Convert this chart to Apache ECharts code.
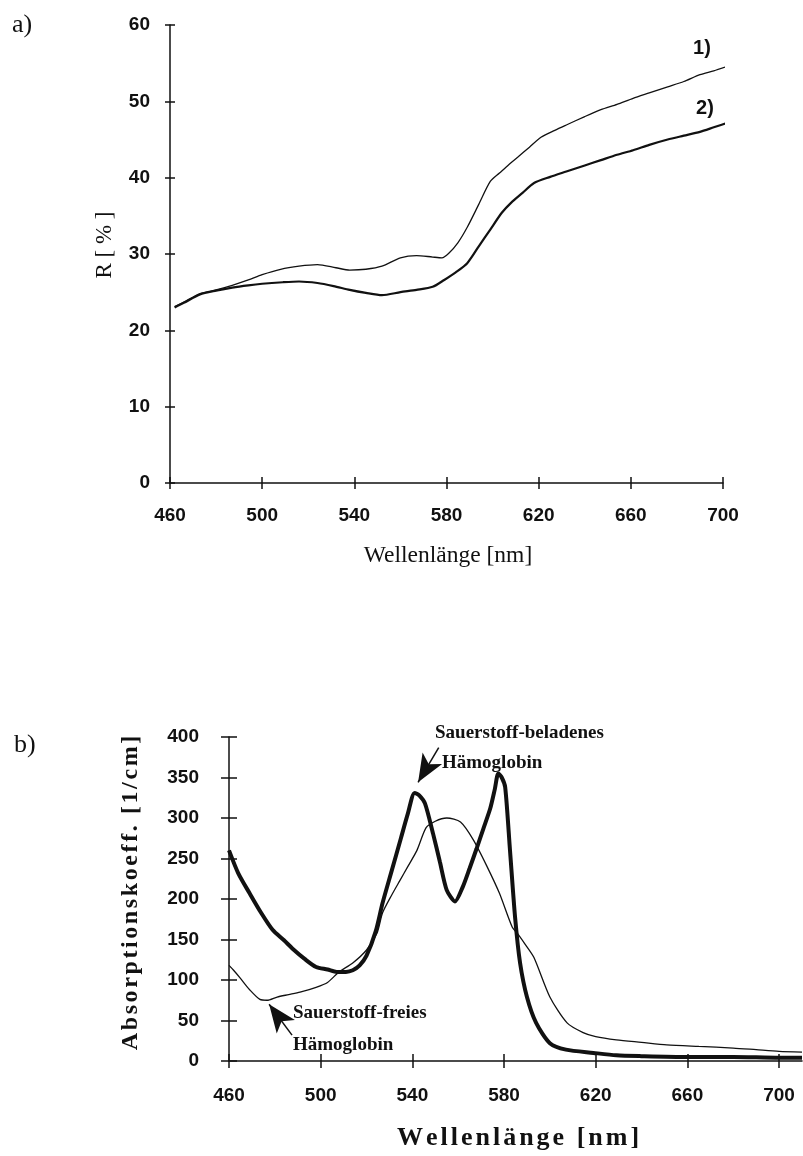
<!DOCTYPE html>
<html>
<head>
<meta charset="utf-8">
<script src="https://cdn.jsdelivr.net/npm/echarts@6/dist/echarts.min.js"></script>
<style>
html,body{margin:0;padding:0;background:#fff;}
#chart{width:803px;height:1156px;}
</style>
</head>
<body>
<div id="chart"></div>
<script>
// ---- Panel a) Reflexion R [%] ----
var wlR1 = [462, 466, 473, 480, 487, 494, 500, 508, 516, 524, 532, 538, 545, 552, 560, 567, 574, 578, 581, 585, 589, 594, 599, 603, 607, 611, 616, 621, 627, 632, 640, 647, 654, 661, 668, 676, 683, 690, 696, 702];
var valR1 = [23.1, 23.7, 24.8, 25.3, 25.9, 26.6, 27.3, 28.0, 28.4, 28.6, 28.2, 27.9, 28.0, 28.4, 29.5, 29.8, 29.6, 29.5, 30.1, 31.5, 33.5, 36.5, 39.5, 40.6, 41.7, 42.7, 44.0, 45.3, 46.2, 46.9, 48.0, 48.9, 49.6, 50.4, 51.1, 51.9, 52.6, 53.5, 54.0, 54.6];
var wlR2 = [462, 466, 473, 480, 487, 494, 500, 509, 516, 524, 531, 538, 545, 552, 560, 567, 574, 579, 584, 589, 594, 599, 604, 608, 613, 618, 625, 632, 640, 647, 654, 661, 668, 676, 683, 690, 696, 702];
var valR2 = [23.0, 23.6, 24.7, 25.2, 25.6, 25.9, 26.1, 26.3, 26.4, 26.2, 25.8, 25.3, 24.9, 24.6, 25.0, 25.3, 25.7, 26.6, 27.6, 28.8, 31.0, 33.2, 35.4, 36.7, 38.0, 39.3, 40.1, 40.8, 41.6, 42.3, 43.0, 43.6, 44.3, 45.0, 45.5, 46.0, 46.6, 47.2];
var xTicksA = [460, 500, 540, 580, 620, 660, 700];
var yTicksA = [0, 10, 20, 30, 40, 50, 60];

// ---- Panel b) Absorptionskoeffizient [1/cm] ----
var wlOxy = [460, 464, 469, 474, 479, 484, 488, 493, 498, 503, 507, 511, 514, 517, 520, 524, 527, 531, 535, 538, 541, 543, 545.5, 549, 552, 555, 558.6, 562, 565, 568, 571, 574, 576, 577.5, 579, 580.5, 582.6, 584.8, 587, 590, 594, 600, 607, 619, 629, 640, 660, 680, 700, 710];
var absOxy = [260, 232, 207, 183, 162, 149, 138, 126, 116, 113, 110, 110, 112, 118, 130, 160, 195, 235, 275, 305, 331, 328, 318, 281, 246, 211, 197, 215, 238, 262, 287, 312, 336, 355, 350, 338, 260, 178, 121, 79, 47, 22, 14, 10, 7, 6, 5, 5, 4, 4];
var wlDeoxy = [460, 462, 465, 469, 473.5, 476.6, 481, 486, 491, 498, 503, 508, 514, 520, 524.6, 527, 531, 534.6, 538, 542, 546, 550, 555, 561, 566.6, 572.6, 578, 583.6, 586, 589, 593, 600, 607.5, 614.5, 620, 629, 640, 651, 665, 680, 690, 700, 710];
var absDeoxy = [118, 112, 102, 88, 76, 75, 79, 82, 85, 91, 97, 110, 121, 137, 158, 183, 205, 223, 240, 260, 288, 296, 300, 295, 273, 240, 207, 165, 157, 145, 128, 79, 47, 35, 30, 26, 23, 20, 18, 16, 14, 12, 11];
var xTicksB = [460, 500, 540, 580, 620, 660, 700];
var yTicksB = [0, 50, 100, 150, 200, 250, 300, 350, 400];

function pairs(xs, ys) { return xs.map(function (x, i) { return [x, ys[i]]; }); }

// letter-spaced drawing for the spaced-out bold axis titles of panel b
var SPACED = { 'Wellenlänge [nm]': 3, 'Absorptionskoeff. [1/cm]': 2.6 };
(function () {
  var P = CanvasRenderingContext2D.prototype, orig = P.fillText;
  P.fillText = function (t, x, y) {
    var f = this.font || '';
    if (typeof t === 'string' && SPACED[t] !== undefined && (f.indexOf('bold') >= 0 || f.indexOf('700') >= 0)) {
      var sp = SPACED[t], chars = Array.from(t), ws = [], total = 0, self = this;
      chars.forEach(function (c) { var w = self.measureText(c).width; ws.push(w); total += w; });
      total += sp * (chars.length - 1);
      var a = this.textAlign, cx = x;
      if (a === 'center') cx = x - total / 2;
      else if (a === 'right' || a === 'end') cx = x - total;
      this.textAlign = 'left';
      for (var i = 0; i < chars.length; i++) { orig.call(this, chars[i], cx, y); cx += ws[i] + sp; }
      this.textAlign = a;
      return;
    }
    return orig.apply(this, arguments);
  };
})();

var SANS = 'Liberation Sans, Arial, sans-serif';
var SERIF = 'Liberation Serif, Times New Roman, serif';
var lineCol = '#111';

function mkX(grid, min, max, ticks, inside, margin, tlen) {
  return {
    type: 'value', gridIndex: grid, position: 'bottom', min: min, max: max, interval: 40,
    axisLine: { show: !inside, onZero: false, lineStyle: { color: lineCol, width: 1.5 } },
    axisTick: { show: true, inside: inside, length: tlen, customValues: ticks, lineStyle: { color: lineCol, width: 1.5 } },
    axisLabel: { show: !inside, customValues: ticks, margin: margin, color: '#111', fontFamily: SANS, fontSize: 19, fontWeight: 'bold' },
    splitLine: { show: false }
  };
}
function mkY(grid, max, interval, ticks, inside, margin, tlen) {
  return {
    type: 'value', gridIndex: grid, position: 'left', min: 0, max: max, interval: interval,
    axisLine: { show: !inside, onZero: false, lineStyle: { color: lineCol, width: 1.5 } },
    axisTick: { show: true, inside: inside, length: tlen, customValues: ticks, lineStyle: { color: lineCol, width: 1.5 } },
    axisLabel: { show: !inside, customValues: ticks, margin: margin, color: '#111', fontFamily: SANS, fontSize: 19, fontWeight: 'bold' },
    splitLine: { show: false }
  };
}

function arrowLine(from, to) {
  return {
    silent: true, symbol: ['none', 'arrow'], symbolSize: 22, label: { show: false },
    lineStyle: { color: '#111', width: 1.5, type: 'solid' },
    emphasis: { disabled: true },
    data: [[{ coord: from, symbol: 'none' }, { coord: to, symbol: 'arrow', symbolSize: [17, 28] }]]
  };
}

var chart = echarts.init(document.getElementById('chart'), null, { renderer: 'canvas' });
chart.setOption({
  animation: false,
  backgroundColor: '#fff',
  grid: [
    { left: 170, top: 25, width: 553, height: 458 },
    { left: 229, top: 737, width: 573, height: 324 }
  ],
  xAxis: [
    mkX(0, 460, 700, xTicksA, false, 23, 6),
    mkX(0, 460, 700, xTicksA, true, 23, 6),
    mkX(1, 460, 710, xTicksB, false, 25, 7),
    mkX(1, 460, 710, xTicksB, true, 25, 7)
  ],
  yAxis: [
    mkY(0, 60, 10, yTicksA, false, 20, 5),
    mkY(0, 60, 10, yTicksA, true, 20, 5),
    mkY(1, 400, 50, yTicksB, false, 30, 8),
    mkY(1, 400, 50, yTicksB, true, 30, 8)
  ],
  series: [
    { type: 'line', xAxisIndex: 0, yAxisIndex: 0, data: pairs(wlR1, valR1), showSymbol: false, smooth: 0.25,
      lineStyle: { color: '#111', width: 1.3 } },
    { type: 'line', xAxisIndex: 0, yAxisIndex: 0, data: pairs(wlR2, valR2), showSymbol: false, smooth: 0.25,
      lineStyle: { color: '#111', width: 2.2 } },
    { type: 'line', xAxisIndex: 2, yAxisIndex: 2, data: pairs(wlDeoxy, absDeoxy), showSymbol: false, smooth: 0.25,
      lineStyle: { color: '#111', width: 1.3 },
      markLine: arrowLine([487.5, 32], [477.5, 70]) },
    { type: 'line', xAxisIndex: 2, yAxisIndex: 2, data: pairs(wlOxy, absOxy), showSymbol: false, smooth: 0.25,
      lineStyle: { color: '#111', width: 4 },
      markLine: arrowLine([551.5, 387], [542.5, 344]) }
  ],
  graphic: [
    { type: 'text', x: 12, y: 25, style: { text: 'a)', font: '26px ' + SERIF, fill: '#111', verticalAlign: 'middle' } },
    { type: 'text', x: 14, y: 745, style: { text: 'b)', font: '26px ' + SERIF, fill: '#111', verticalAlign: 'middle' } },
    { type: 'text', x: 702, y: 48, style: { text: '1)', font: 'bold 20px ' + SANS, fill: '#111', align: 'center', verticalAlign: 'middle' } },
    { type: 'text', x: 705, y: 108, style: { text: '2)', font: 'bold 20px ' + SANS, fill: '#111', align: 'center', verticalAlign: 'middle' } },
    { type: 'text', x: 105, y: 245, rotation: Math.PI / 2, style: { text: 'R [ % ]', font: '23px ' + SERIF, fill: '#111', align: 'center', verticalAlign: 'middle' } },
    { type: 'text', x: 448, y: 556, style: { text: 'Wellenlänge [nm]', font: '23.5px ' + SERIF, fill: '#111', align: 'center', verticalAlign: 'middle' } },
    { type: 'text', x: 131, y: 893, rotation: Math.PI / 2, style: { text: 'Absorptionskoeff. [1/cm]', font: 'bold 24px ' + SERIF, fill: '#111', align: 'center', verticalAlign: 'middle' } },
    { type: 'text', x: 518, y: 1138, style: { text: 'Wellenlänge [nm]', font: 'bold 26px ' + SERIF, fill: '#111', align: 'center', verticalAlign: 'middle' } },
    { type: 'text', x: 435, y: 733, style: { text: 'Sauerstoff-beladenes', font: 'bold 19px ' + SERIF, fill: '#111', verticalAlign: 'middle' } },
    { type: 'text', x: 442, y: 763, style: { text: 'Hämoglobin', font: 'bold 19px ' + SERIF, fill: '#111', verticalAlign: 'middle' } },
    { type: 'text', x: 293, y: 1013, style: { text: 'Sauerstoff-freies', font: 'bold 19px ' + SERIF, fill: '#111', verticalAlign: 'middle' } },
    { type: 'text', x: 293, y: 1045, style: { text: 'Hämoglobin', font: 'bold 19px ' + SERIF, fill: '#111', verticalAlign: 'middle' } }
  ]
});
</script>
</body>
</html>
